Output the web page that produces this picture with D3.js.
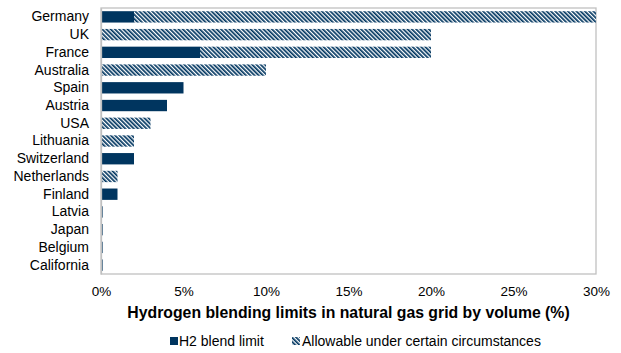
<!DOCTYPE html>
<html>
<head>
<meta charset="utf-8">
<script src="https://cdn.jsdelivr.net/npm/d3@7"></script>
<style>
  body { margin: 0; background: #fff; }
  svg { font-family: "Liberation Sans", Arial, sans-serif; }
</style>
</head>
<body>
<svg width="621" height="353"></svg>
<script>
// data (values in %)
var countries = ["Germany", "UK", "France", "Australia", "Spain", "Austria", "USA", "Lithuania",
    "Switzerland", "Netherlands", "Finland", "Latvia", "Japan", "Belgium", "California"];
var blendLimit = [2, 0, 6, 0, 5, 4, 0, 0, 2, 0, 1, 0.1, 0.1, 0.1, 0.1];
var allowable = [30, 20, 20, 10, 0, 0, 3, 2, 0, 1, 0, 0, 0, 0, 0]; // upper limit, hatched part
var xTicks = [0, 5, 10, 15, 20, 25, 30];

var navy = "#00355f";

var svg = d3.select("svg"),
    margin = { top: 8, right: 25, bottom: 79, left: 101 },
    width = +svg.attr("width") - margin.left - margin.right,
    height = +svg.attr("height") - margin.top - margin.bottom,
    g = svg.append("g").attr("transform", "translate(" + margin.left + "," + margin.top + ")");

// hatch pattern
var pat = svg.append("defs").append("pattern")
    .attr("id", "hatch")
    .attr("patternUnits", "userSpaceOnUse")
    .attr("width", 3)
    .attr("height", 3)
    .attr("patternTransform", "rotate(-45)");
pat.append("rect").attr("width", 3).attr("height", 3).attr("fill", "#fff");
pat.append("rect").attr("width", 1.7).attr("height", 3).attr("fill", navy);

var x = d3.scaleLinear().domain([0, 30]).range([0, width]);
var y = d3.scaleBand().domain(countries).range([0, height]).paddingInner(0.36).paddingOuter(0.18);

// frame
g.append("rect")
    .attr("x", 0).attr("y", 0)
    .attr("width", width).attr("height", height)
    .attr("fill", "none")
    .attr("stroke", "#c0c0c0")
    .attr("stroke-width", 1.3);

// hatched bars (from blend limit up to allowable)
g.append("g").selectAll("rect")
    .data(countries.filter(function (d, i) { return allowable[i] > blendLimit[i]; }))
    .enter().append("rect")
    .attr("x", function (d) { return x(blendLimit[countries.indexOf(d)]); })
    .attr("y", function (d) { return y(d); })
    .attr("width", function (d) {
        var i = countries.indexOf(d);
        return x(allowable[i]) - x(blendLimit[i]);
    })
    .attr("height", y.bandwidth())
    .attr("fill", "url(#hatch)");

// solid bars
g.append("g").selectAll("rect")
    .data(countries.filter(function (d, i) { return blendLimit[i] > 0; }))
    .enter().append("rect")
    .attr("x", x(0))
    .attr("y", function (d) { return y(d); })
    .attr("width", function (d) { return Math.max(1.5, x(blendLimit[countries.indexOf(d)]) - x(0)); })
    .attr("height", y.bandwidth())
    .attr("fill", navy);

// x axis
var xAxis = g.append("g")
    .attr("transform", "translate(0," + height + ")")
    .call(d3.axisBottom(x).tickValues(xTicks).tickSize(0).tickPadding(12)
        .tickFormat(function (d) { return d + "%"; }));
xAxis.select(".domain").remove();
xAxis.selectAll("text").attr("font-size", 13.5).attr("fill", "#000")
    .attr("font-family", "Liberation Sans, Arial, sans-serif");

// y axis
var yAxis = g.append("g")
    .call(d3.axisLeft(y).tickSize(0).tickPadding(12));
yAxis.select(".domain").attr("stroke", "#c0c0c0").attr("stroke-width", 1.3);
yAxis.selectAll("text").attr("font-size", 14).attr("fill", "#000")
    .attr("font-family", "Liberation Sans, Arial, sans-serif");

// axis title
svg.append("text")
    .attr("x", margin.left + width / 2)
    .attr("y", 318)
    .attr("text-anchor", "middle")
    .attr("font-size", 15.8)
    .attr("font-weight", "bold")
    .text("Hydrogen blending limits in natural gas grid by volume (%)");

// legend
var legend = svg.append("g").attr("font-size", 14);
legend.append("rect").attr("x", 170).attr("y", 337).attr("width", 8).attr("height", 8).attr("fill", navy);
legend.append("text").attr("x", 179).attr("y", 345.5).text("H2 blend limit");
legend.append("rect").attr("x", 292).attr("y", 337).attr("width", 8).attr("height", 8).attr("fill", "url(#hatch)");
legend.append("text").attr("x", 302).attr("y", 345.5).text("Allowable under certain circumstances");
</script>
</body>
</html>
